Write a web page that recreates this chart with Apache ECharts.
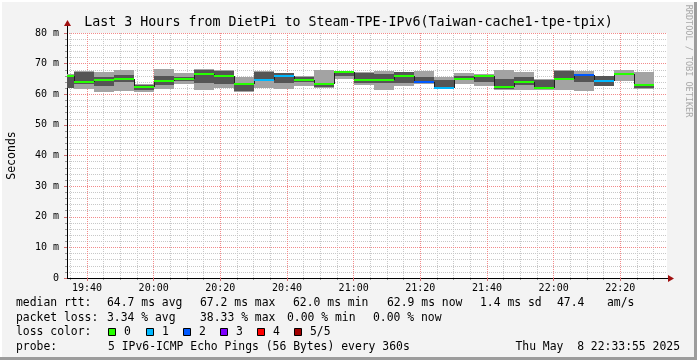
<!DOCTYPE html>
<html><head><meta charset="utf-8">
<script src="https://cdn.jsdelivr.net/npm/echarts@6/dist/echarts.min.js"></script>
<style>html,body{margin:0;padding:0;background:#f3f3f3}#c{width:697px;height:360px}</style>
</head><body><div id="c"></div>
<script>
// ---- data ----
const endTimes = ['19:36','19:42','19:48','19:54','20:00','20:06','20:12','20:18','20:24','20:30',
                  '20:36','20:42','20:48','20:54','21:00','21:06','21:12','21:18','21:24','21:30',
                  '21:36','21:42','21:48','21:54','22:00','22:06','22:12','22:18','22:24','22:30'];
const pingMin  = [61.9,61.6,60.8,61.2,60.8,61.7,63.4,61.4,61.9,60.7, 62.1,61.7,62.8,61.9,65.0,63.0,61.5,62.8,63.3,61.9, 63.3,62.8,61.4,61.4,61.5,61.3,61.2,62.7,64.3,61.6];
const pingLow  = [62.1,63.3,62.8,64.0,61.4,63.0,64.2,63.6,63.2,61.0, 64.6,63.7,64.0,62.5,65.8,63.6,63.6,63.8,63.6,62.0, 64.8,63.9,61.6,63.0,61.6,64.9,64.1,62.8,66.3,62.0];
const median   = [65.9,64.1,64.7,65.1,62.4,64.3,64.9,66.7,66.1,63.5, 64.8,66.1,64.8,63.4,67.2,64.5,64.6,66.1,64.0,62.1, 65.1,65.8,62.5,63.9,62.0,65.0,66.2,64.2,66.5,62.9];
const pingHigh = [66.0,67.2,65.7,66.3,63.0,66.0,65.5,68.0,67.6,63.8, 67.4,66.8,65.5,63.8,67.5,67.0,66.5,67.2,65.5,64.8, 66.0,66.0,64.9,65.7,64.6,67.6,66.6,65.8,66.7,63.0];
const pingMax  = [66.5,67.7,67.4,67.9,63.4,68.2,67.0,68.2,67.8,65.7, 67.6,67.0,66.0,67.9,67.6,67.2,67.5,67.4,67.7,65.5, 67.0,66.5,67.9,67.4,64.9,67.8,67.7,66.1,67.9,67.2];
const lossCount = [0,0,0,0,0,0,0,0,0,0, 1,1,0,0,0,0,0,0,2,1, 0,0,0,0,0,0,2,1,0,0];
const lossLabels = ['0','1','2','3','4','5/5'];
const lossColors = ['#26ff00','#00b8ff','#0059ff','#7e00ff','#ff0000','#a10000'];
const xTickLabels = ['19:40','20:00','20:20','20:40','21:00','21:20','21:40','22:00','22:20'];
const rangeStart = '19:34', rangeEnd = '22:34';
const stepMinutes = 6;

const titleText = 'Last 3 Hours from DietPi to Steam-TPE-IPv6(Taiwan-cache1-tpe-tpix)';
const statsRtt  = ['median rtt:','64.7 ms avg','67.2 ms max','62.0 ms min','62.9 ms now','1.4 ms sd','47.4','am/s'];
const statsLoss = ['packet loss:','3.34 % avg','38.33 % max','0.00 % min','0.00 % now'];
const probeText = ['probe:','5 IPv6-ICMP Echo Pings (56 Bytes) every 360s'];
const dateText  = 'Thu May  8 22:33:55 2025';

// ---- helpers ----
const toMin = s => { const p = s.split(':').map(Number); return p[0]*60 + p[1]; };
const fmt = v => { const h = Math.floor(v/60), m = Math.round(v%60); return String(h).padStart(2,'0') + ':' + String(m).padStart(2,'0'); };
const xMin = toMin(rangeStart), xMax = toMin(rangeEnd);
const majorX = xTickLabels.map(toMin);
const minorX = []; for (let v = Math.ceil(xMin/5)*5; v <= xMax; v += 5) if (majorX.indexOf(v) < 0) minorX.push(v);

const blocks = endTimes.map((t,i) => [toMin(t)-stepMinutes, toMin(t), pingMin[i], pingLow[i], median[i], pingHigh[i], pingMax[i], lossCount[i], i>0 ? median[i-1] : median[i]]);

const MONO = '"DejaVu Sans Mono", monospace';
const MAJOR = '#f28a8a', MINOR = '#c8c8c8';

function renderSmoke(params, api) {
  const X0 = Math.round(api.coord([api.value(0), 0])[0]);
  const X1 = Math.round(api.coord([api.value(1), 0])[0]);
  const yMax = Math.round(api.coord([0, api.value(6)])[1]);
  const yMin = Math.round(api.coord([0, api.value(2)])[1]);
  const yHi = Math.round(api.coord([0, api.value(5)])[1]);
  const yLo = Math.round(api.coord([0, api.value(3)])[1]);
  return { type: 'group', children: [
    { type: 'rect', shape: { x: X0, y: yMax, width: X1-X0, height: Math.max(1, yMin-yMax) }, style: { fill: '#a3a3a3' } },
    { type: 'rect', shape: { x: X0, y: yHi, width: X1-X0, height: Math.max(1, yLo-yHi) }, style: { fill: '#555555' } }
  ]};
}
function renderMedian(params, api) {
  const X0 = Math.round(api.coord([api.value(0), 0])[0]);
  const X1 = Math.round(api.coord([api.value(1), 0])[0]);
  const ym = Math.round(api.coord([0, api.value(4)])[1]);
  const yp = Math.round(api.coord([0, api.value(8)])[1]);
  const color = lossColors[api.value(7)];
  return { type: 'group', children: [
    { type: 'line', shape: { x1: X0+0.5, y1: yp, x2: X0+0.5, y2: ym }, style: { stroke: '#202020', lineWidth: 1 } },
    { type: 'rect', shape: { x: X0, y: ym-1, width: X1-X0, height: 2 }, style: { fill: color } }
  ]};
}

const chart = echarts.init(document.getElementById('c'), null, { renderer: 'canvas' });

const gfx = [];
// frame
gfx.push({ type:'rect', shape:{x:694,y:0,width:3,height:360}, style:{fill:'#9c9c9c'}, silent:true });
gfx.push({ type:'rect', shape:{x:0,y:357,width:697,height:3}, style:{fill:'#9c9c9c'}, silent:true });
gfx.push({ type:'rect', shape:{x:0,y:0,width:697,height:2}, style:{fill:'#ffffff'}, silent:true });
gfx.push({ type:'rect', shape:{x:0,y:0,width:2,height:357}, style:{fill:'#ffffff'}, silent:true });
// axis extensions + arrows
gfx.push({ type:'line', shape:{x1:67.5,y1:33,x2:67.5,y2:24}, style:{stroke:'#000',lineWidth:1}, z:10 });
gfx.push({ type:'polygon', shape:{points:[[64,26],[71,26],[67.5,20]]}, style:{fill:'#a01010'}, z:10 });
gfx.push({ type:'line', shape:{x1:667,y1:278.5,x2:670,y2:278.5}, style:{stroke:'#000',lineWidth:1}, z:10 });
gfx.push({ type:'polygon', shape:{points:[[668,275],[668,282],[674,278.5]]}, style:{fill:'#a01010'}, z:10 });
// watermark
gfx.push({ type:'text', x:688, y:61, rotation:-Math.PI/2, style:{ text:'RRDTOOL / TOBI OETIKER', font:'8.5px ' + MONO, fill:'#a8a8a8', align:'center', verticalAlign:'middle' } });
// legend / statistics text
const line = (txt, x, y) => gfx.push({ type:'text', x:x, y:y, style:{ text:txt, font:'11.4px ' + MONO, fill:'#000', align:'left', verticalAlign:'middle' } });
const rttX = [16,107,200,293,387,480,557,607];
statsRtt.forEach((t,i) => line(t, rttX[i], 303));
const lossX = [16,107,200,287,373];
statsLoss.forEach((t,i) => line(t, lossX[i], 318));
line('loss color:', 16, 332);
const sqX = [108,146,183,220,257,294];
lossLabels.forEach((t,i) => {
  gfx.push({ type:'rect', shape:{x:sqX[i]+0.5, y:328.5, width:7, height:7}, style:{fill:lossColors[i], stroke:'#000', lineWidth:1} });
  line(t, sqX[i]+16, 332);
});
line(probeText[0], 16, 347);
line(probeText[1], 108, 347);
gfx.push({ type:'text', x:680, y:347, style:{ text:dateText, font:'11.4px ' + MONO, fill:'#000', align:'right', verticalAlign:'middle' } });

const option = {
  backgroundColor: '#f3f3f3',
  animation: false,
  title: { text: titleText, left: 'center', top: 11, textStyle: { fontFamily: MONO, fontSize: 13.3, fontWeight: 'normal', color: '#000' } },
  grid: { left: 67, top: 33, width: 600, height: 245, show: true, backgroundColor: '#ffffff', borderWidth: 0, containLabel: false, outerBoundsMode: 'none' },
  xAxis: [
    { type: 'value', min: xMin, max: xMax, position: 'bottom', z: 3,
      axisLine: { show: true, onZero: false, lineStyle: { color: '#000', width: 1 } },
      axisTick: { show: true, length: 3, customValues: majorX, lineStyle: { color: '#d07070' } },
      axisLabel: { customValues: majorX, formatter: v => fmt(v), fontFamily: MONO, fontSize: 10, color: '#000', margin: 5 },
      splitLine: { show: true, lineStyle: { color: MAJOR, type: [1,1], width: 1 } } },
    { type: 'value', min: xMin, max: xMax, position: 'bottom', z: 2,
      axisLine: { show: false }, axisLabel: { show: false },
      axisTick: { show: true, length: 2, customValues: minorX, lineStyle: { color: '#999' } },
      splitLine: { show: true, lineStyle: { color: MINOR, type: [1,1], width: 1 } } }
  ],
  yAxis: { type: 'value', min: 0, max: 80, interval: 10, z: 3,
    axisLine: { show: true, lineStyle: { color: '#000', width: 1 } },
    axisTick: { show: true, length: 3, lineStyle: { color: '#d07070' } },
    minorTick: { show: true, splitNumber: 5, length: 2, lineStyle: { color: '#999' } },
    minorSplitLine: { show: true, lineStyle: { color: MINOR, type: [1,1], width: 1 } },
    splitLine: { show: true, lineStyle: { color: MAJOR, type: [1,1], width: 1 } },
    axisLabel: { formatter: v => v === 0 ? '0' : v + ' m', fontFamily: MONO, fontSize: 10, color: '#000', margin: 8 },
    name: 'Seconds', nameLocation: 'middle', nameGap: 49, nameRotate: 90,
    nameTextStyle: { fontFamily: MONO, fontSize: 11.5, color: '#000' } },
  series: [
    { type: 'custom', name: 'smoke', xAxisIndex: 0, renderItem: renderSmoke, clip: true, data: blocks, encode: { x: [0,1], y: [2,6] }, z: 4 },
    { type: 'custom', name: 'median', xAxisIndex: 0, renderItem: renderMedian, clip: true, data: blocks, encode: { x: [0,1], y: [4] }, z: 5 }
  ],
  graphic: gfx
};
chart.setOption(option);
</script></body></html>
